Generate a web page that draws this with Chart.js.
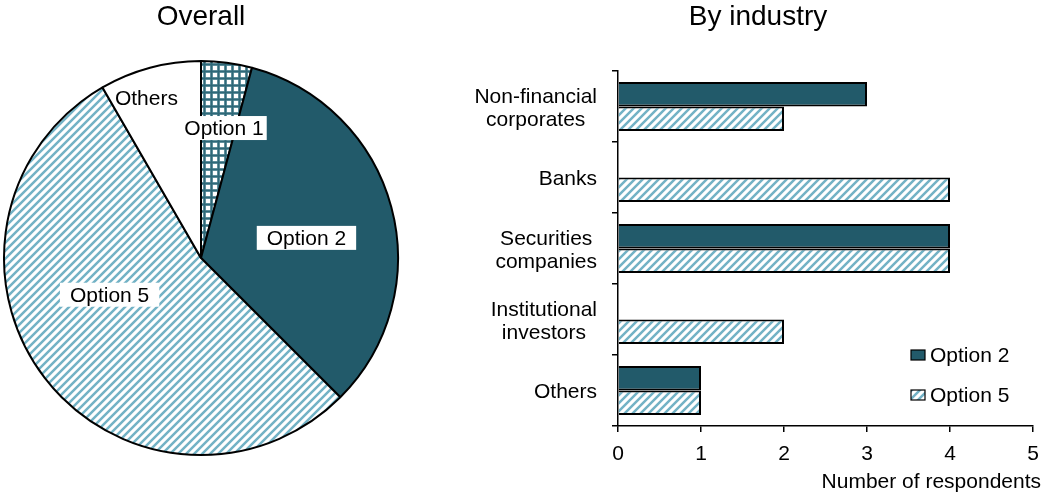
<!DOCTYPE html>
<html><head><meta charset="utf-8">
<script src="https://cdn.jsdelivr.net/npm/chart.js@4"></script>
<style>
html,body{margin:0;padding:0;background:#fff;}
body{width:1046px;height:494px;position:relative;overflow:hidden;}
#pieWrap{position:absolute;left:0;top:0;width:402px;height:494px;}
#barWrap{position:absolute;left:470px;top:0;width:576px;height:494px;}
</style></head><body>
<div id="pieWrap"><canvas id="pie"></canvas></div>
<div id="barWrap"><canvas id="bar"></canvas></div>
<script>
// ---- data ----
const pieTitle = 'Overall';
const pieLabels = ['Option 1', 'Option 2', 'Option 5', 'Others'];
const pieValues = [1, 8, 13, 2];

const barTitle = 'By industry';
const industries = [['Non-financial', 'corporates'], ['Banks'], ['Securities', 'companies'], ['Institutional', 'investors'], ['Others']];
const seriesNames = ['Option 2', 'Option 5'];
const option2Values = [3, 0, 4, 0, 1];
const option5Values = [2, 4, 4, 2, 1];
const xTickValues = [0, 1, 2, 3, 4, 5];
const xAxisTitle = 'Number of respondents';

// ---- styles ----
const FONT = "'Liberation Sans', Arial, sans-serif";
const TEAL = '#225a6a';

function makeHatch() {
  const s = 8, c = document.createElement('canvas');
  c.width = s; c.height = s;
  const g = c.getContext('2d');
  g.fillStyle = '#fff'; g.fillRect(0, 0, s, s);
  g.strokeStyle = '#72b2c5'; g.lineWidth = 2.5;
  g.beginPath();
  g.moveTo(-2, s + 2); g.lineTo(s + 2, -2);
  g.moveTo(-2, 2); g.lineTo(2, -2);
  g.moveTo(s - 2, s + 2); g.lineTo(s + 2, s - 2);
  g.stroke();
  return g.createPattern(c, 'repeat');
}
function makeChecker() {
  const s = 7, c = document.createElement('canvas');
  c.width = s; c.height = s;
  const g = c.getContext('2d');
  g.fillStyle = '#fff'; g.fillRect(0, 0, s, s);
  g.fillStyle = '#8fb4be'; g.fillRect(0, 0, s, 3); g.fillRect(0, 0, 3, s);
  g.fillStyle = '#2e6878'; g.fillRect(0, 0.5, s, 2); g.fillRect(0.5, 0, 2, s);
  return g.createPattern(c, 'repeat');
}
const hatch = makeHatch();
const checker = makeChecker();

// label placement within each slice: t = fraction along the slice angle, r = fraction of radius
const pieLabelPlace = [
  {t: 0.67, r: 0.67, box: true, padL: 3, padR: 3},
  {t: 0.535, r: 0.545, box: true, padL: 10, padR: 10},
  {t: 0.58, r: 0.5, box: true, padL: 10, padR: 10},
  {t: 0.37, r: 0.855, box: false, padL: 0, padR: 0}
];

const pieLabelPlugin = {
  id: 'pieLabels',
  afterDatasetsDraw(chart) {
    const ctx = chart.ctx;
    const arcs = chart.getDatasetMeta(0).data;
    ctx.save();
    ctx.font = '21px ' + FONT;
    ctx.textAlign = 'center';
    ctx.textBaseline = 'middle';
    arcs.forEach((arc, i) => {
      const p = pieLabelPlace[i];
      const {x, y, startAngle, endAngle, outerRadius} = arc.getProps(['x', 'y', 'startAngle', 'endAngle', 'outerRadius'], true);
      const a = startAngle + (endAngle - startAngle) * p.t;
      const r = outerRadius * p.r;
      const tx = x + Math.cos(a) * r, ty = y + Math.sin(a) * r;
      const label = chart.data.labels[i];
      const w = ctx.measureText(label).width;
      if (p.box) {
        ctx.fillStyle = '#fff';
        ctx.fillRect(tx - w / 2 - p.padL, ty - 12, w + p.padL + p.padR, 24);
      }
      ctx.fillStyle = '#000';
      ctx.fillText(label, tx, ty + 1);
    });
    ctx.restore();
  }
};

new Chart(document.getElementById('pie'), {
  type: 'pie',
  data: {
    labels: pieLabels,
    datasets: [{
      data: pieValues,
      backgroundColor: [checker, TEAL, hatch, '#ffffff'],
      borderColor: '#000',
      borderWidth: 2
    }]
  },
  options: {
    responsive: true, maintainAspectRatio: false, animation: false, devicePixelRatio: 1,
    layout: {padding: {left: 3, right: 3, top: 0, bottom: 38}},
    plugins: {
      legend: {display: false},
      tooltip: {enabled: false},
      title: {display: true, text: pieTitle, color: '#000', font: {family: FONT, size: 28, weight: 'normal', lineHeight: 1.2}, padding: {top: 0, bottom: 26.4}}
    }
  },
  plugins: [pieLabelPlugin]
});

const barExtras = {
  id: 'barExtras',
  afterDraw(chart) {
    const ctx = chart.ctx;
    const ys = chart.scales.y;
    const ca = chart.chartArea;
    ctx.save();
    ctx.font = '21px ' + FONT;
    ctx.fillStyle = '#000';
    ctx.textBaseline = 'middle';
    ctx.textAlign = 'center';
    // category labels: block right-aligned, lines centred within the block
    const rightEdge = ca.left - 21;
    const lh = 23.5;
    industries.forEach((lines, i) => {
      const yc = ys.getPixelForValue(i) + 2;
      const bw = Math.max(...lines.map(l => ctx.measureText(l).width));
      const cx = rightEdge - bw / 2;
      lines.forEach((l, k) => {
        ctx.fillText(l, cx, yc + (k - (lines.length - 1) / 2) * lh);
      });
    });
    // axis title
    ctx.textAlign = 'right';
    ctx.fillText(xAxisTitle, ca.right + 8, ca.bottom + 56);
    // legend
    const fills = [TEAL, hatch];
    ctx.textAlign = 'left';
    seriesNames.forEach((n, i) => {
      const yc = ca.bottom - 71 + i * 40;
      const bx = ca.right - 122;
      ctx.fillStyle = fills[i];
      ctx.fillRect(bx, yc - 5, 14, 10);
      ctx.strokeStyle = '#000'; ctx.lineWidth = 1.2;
      ctx.strokeRect(bx, yc - 5, 14, 10);
      ctx.fillStyle = '#000';
      ctx.fillText(n, ca.right - 103, yc + 1);
    });
    ctx.restore();
  }
};

new Chart(document.getElementById('bar'), {
  type: 'bar',
  data: {
    labels: industries.map(l => l.join(' ')),
    datasets: [
      {label: seriesNames[0], data: option2Values, backgroundColor: TEAL, borderColor: '#000', borderWidth: 2, categoryPercentage: 0.69, barPercentage: 1},
      {label: seriesNames[1], data: option5Values, backgroundColor: hatch, borderColor: '#000', borderWidth: 2, categoryPercentage: 0.69, barPercentage: 1}
    ]
  },
  options: {
    indexAxis: 'y',
    responsive: true, maintainAspectRatio: false, animation: false, devicePixelRatio: 1,
    layout: {padding: {left: 13, right: 13, top: 0, bottom: 0}},
    scales: {
      x: {
        min: xTickValues[0], max: xTickValues[xTickValues.length - 1],
        afterBuildTicks(s) { s.ticks = xTickValues.map(v => ({value: v})); },
        ticks: {color: '#000', font: {family: FONT, size: 21}, padding: 10, maxRotation: 0},
        grid: {display: true, drawOnChartArea: false, drawTicks: true, tickLength: 6, color: '#000', lineWidth: 1.5},
        border: {display: true, color: '#000', width: 1.5},
        afterFit(s) { s.height = 68; s.paddingLeft = 0; s.paddingRight = 0; }
      },
      y: {
        ticks: {display: false},
        grid: {display: true, offset: true, drawOnChartArea: false, drawTicks: true, tickLength: 6, color: '#000', lineWidth: 1.5},
        border: {display: true, color: '#000', width: 1.5},
        afterFit(s) { s.width = 135; s.paddingTop = 0; s.paddingBottom = 0; }
      }
    },
    plugins: {
      legend: {display: false},
      tooltip: {enabled: false},
      title: {display: true, text: barTitle, color: '#000', font: {family: FONT, size: 28, weight: 'normal', lineHeight: 1.2}, padding: {top: 0, bottom: 37.4}}
    }
  },
  plugins: [barExtras]
});
</script>
</body></html>
